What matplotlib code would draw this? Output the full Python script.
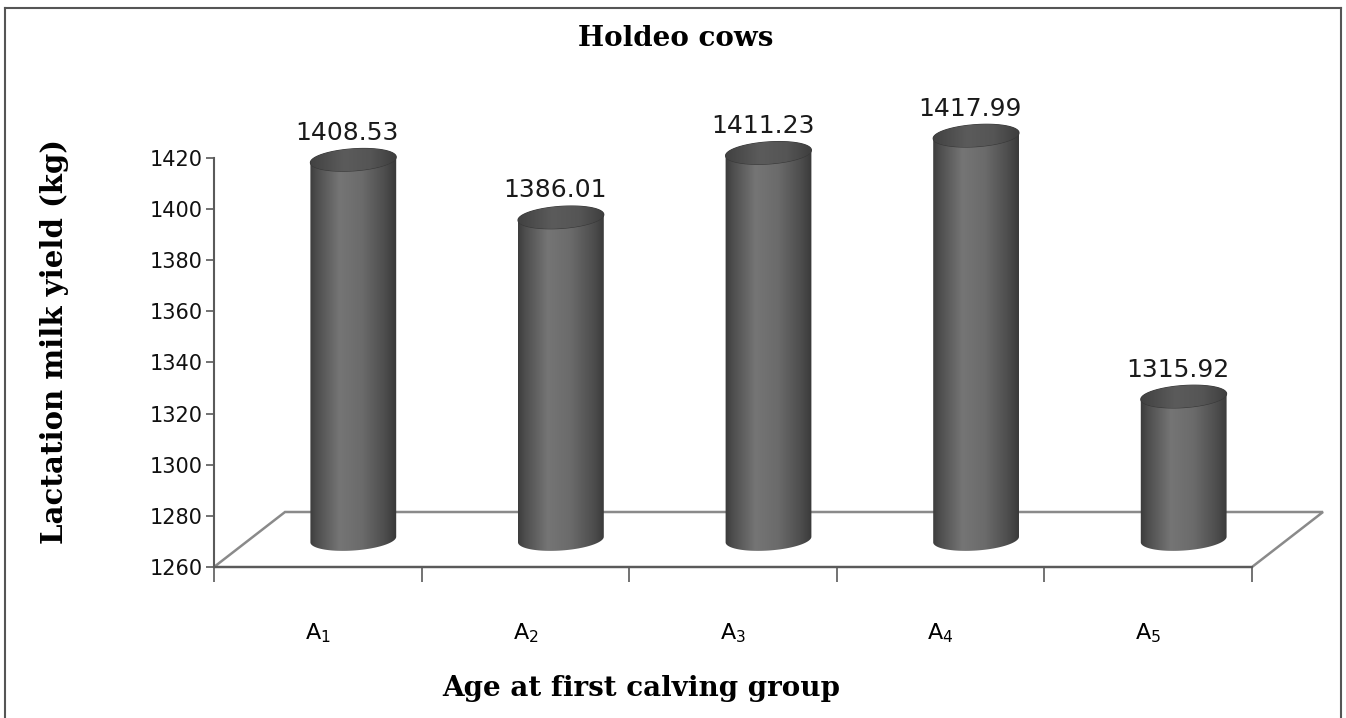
import numpy as np
import matplotlib
matplotlib.use("Agg")
import matplotlib.pyplot as plt
from matplotlib.patches import Polygon
from matplotlib.lines import Line2D
from matplotlib.colors import LinearSegmentedColormap

# Lactation milk yield by age-at-first-calving group
groups = ["1", "2", "3", "4", "5"]
yields = [1408.53, 1386.01, 1411.23, 1417.99, 1315.92]
yticks = [1260, 1280, 1300, 1320, 1340, 1360, 1380, 1400, 1420]
ymin, ymax = 1260, 1420

plt.rcParams["font.family"] = ["DejaVu Sans"]
plt.rcParams["mathtext.fontset"] = "custom"
plt.rcParams["mathtext.rm"] = "Liberation Sans"

W, H = 1346, 718
fig = plt.figure(figsize=(W / 100, H / 100), dpi=100)
ax = fig.add_axes([214 / W, 151 / H, 1038 / W, 409 / H])
ax.set_xlim(0, len(groups))
ax.set_ylim(ymin, ymax)

# pixels per data unit, used for the pseudo-3D geometry
bb = ax.get_window_extent()
sx = bb.width / len(groups)
sy = bb.height / (ymax - ymin)

# floor depth (pixels) and cylinder shape
depth_px = (71, 55)
ddx, ddy = depth_px[0] / sx, depth_px[1] / sy
rad_a, rad_b, tilt = 43, 11, np.radians(4)

# floor outline
floor = Polygon([(0, ymin), (ddx, ymin + ddy), (len(groups) + ddx, ymin + ddy),
                 (len(groups), ymin)], closed=True, fill=False,
                edgecolor="#8a8a8a", lw=1.8, clip_on=False, zorder=1)
ax.add_patch(floor)

body_cmap = LinearSegmentedColormap.from_list(
    "body", [(0, "#383838"), (0.1, "#4e4e4e"), (0.35, "#757575"),
             (0.6, "#6b6b6b"), (0.85, "#4e4e4e"), (1, "#363636")])
cap_cmap = LinearSegmentedColormap.from_list(
    "cap", [(0, "#404040"), (0.4, "#5b5b5b"), (0.7, "#555555"), (1, "#3c3c3c")])
grad = np.linspace(0, 1, 256)[None, :]


def ellipse(cx, cy, t):
    px = rad_a * np.cos(t)
    py = rad_b * np.sin(t)
    rx = px * np.cos(tilt) - py * np.sin(tilt)
    ry = px * np.sin(tilt) + py * np.cos(tilt)
    return np.column_stack([cx + rx / sx, cy + ry / sy])


for i, v in enumerate(yields):
    cx = i + 0.5 + ddx / 2
    y0 = ymin + ddy / 2
    y1 = v + ddy / 2
    low = ellipse(cx, y0, np.linspace(np.pi, 2 * np.pi, 60))
    up = ellipse(cx, y1, np.linspace(0, np.pi, 60))
    body = Polygon(np.vstack([low, up]), closed=True, facecolor="none",
                   edgecolor="none", clip_on=False, zorder=3)
    ax.add_patch(body)
    xa = cx - (rad_a + 2) / sx
    xb = cx + (rad_a + 2) / sx
    im = ax.imshow(grad, extent=[xa, xb, y0 - 20 / sy, y1 + 20 / sy],
                   aspect="auto", cmap=body_cmap, zorder=3, interpolation="bilinear")
    im.set_clip_box(fig.bbox)
    im.set_clip_path(body)

    cap = Polygon(ellipse(cx, y1, np.linspace(0, 2 * np.pi, 120)), closed=True,
                  facecolor="none", edgecolor="#383838", lw=0.8, clip_on=False,
                  zorder=4)
    ax.add_patch(cap)
    imc = ax.imshow(grad, extent=[xa, xb, y1 - 15 / sy, y1 + 15 / sy],
                    aspect="auto", cmap=cap_cmap, zorder=4, interpolation="bilinear")
    imc.set_clip_box(fig.bbox)
    imc.set_clip_path(cap)

    ax.text(cx - 6 / sx, y1 + (rad_b + 9) / sy, f"{v:.2f}", ha="center",
            va="baseline", fontsize=18, color="#1a1a1a", zorder=5)

ax.set_xlim(0, len(groups))
ax.set_ylim(ymin, ymax)

for s in ["top", "right"]:
    ax.spines[s].set_visible(False)
for s in ["left", "bottom"]:
    ax.spines[s].set_color("#5a5a5a")
    ax.spines[s].set_linewidth(1.5)

ax.set_yticks(yticks)
ax.tick_params(axis="y", direction="out", length=6, width=1.2, color="#5a5a5a",
               labelsize=15, pad=2, labelcolor="#111111")
ax.set_xticks(range(len(groups) + 1), labels=[""] * (len(groups) + 1))
ax.tick_params(axis="x", which="major", direction="out", length=11, width=1.2,
               color="#5a5a5a")
ax.set_xticks([i + 0.5 for i in range(len(groups))],
              labels=[r"$\mathregular{A_{%s}}$" % g for g in groups], minor=True)
ax.tick_params(axis="x", which="minor", length=0, labelsize=16, pad=39)

fig.text(676 / W, 1 - 38 / H, "Holdeo cows", family="DejaVu Serif",
         weight="bold", fontsize=20, ha="center", va="center")
fig.text(55 / W, 1 - 341 / H, "Lactation milk yield (kg)", family="DejaVu Serif",
         weight="bold", fontsize=21, rotation=90, ha="center", va="center")
fig.text(641 / W, 1 - 688 / H, "Age at first calving group", family="DejaVu Serif",
         weight="bold", fontsize=20, ha="center", va="center")

# outer chart frame (left, top, right)
frame = dict(color="#555555", lw=1.5, transform=fig.transFigure)
fig.add_artist(Line2D([5 / W, 5 / W], [0, 1 - 8 / H], **frame))
fig.add_artist(Line2D([5 / W, 1341 / W], [1 - 8 / H, 1 - 8 / H], **frame))
fig.add_artist(Line2D([1341 / W, 1341 / W], [0, 1 - 8 / H], **frame))

fig.savefig("out.png", dpi=100)
